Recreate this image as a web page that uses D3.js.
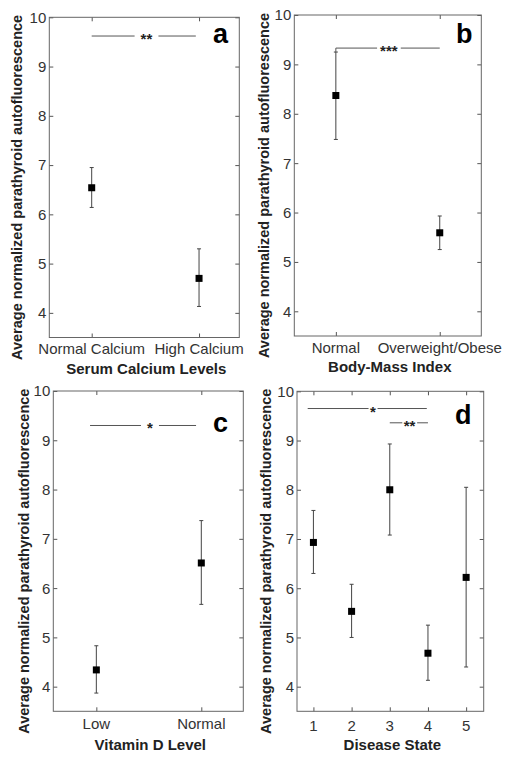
<!DOCTYPE html>
<html>
<head>
<meta charset="utf-8">
<script src="https://cdn.jsdelivr.net/npm/d3@7"></script>
<style>
  body { margin: 0; background: #fff; }
  svg { font-family: 'Liberation Sans', Arial, sans-serif; }
</style>
</head>
<body>
<div id="chart"></div>
<script>
// values
const calciumCats = ['Normal Calcium', 'High Calcium']
const calciumMean = [6.54, 4.70]
const calciumLow = [6.14, 4.13]
const calciumHigh = [6.95, 5.30]

const bmiCats = ['Normal', 'Overweight/Obese']
const bmiMean = [8.37, 5.59]
const bmiLow = [7.48, 5.25]
const bmiHigh = [9.25, 5.93]

const vitdCats = ['Low', 'Normal']
const vitdMean = [4.34, 6.51]
const vitdLow = [3.87, 5.67]
const vitdHigh = [4.83, 7.37]

const diseaseCats = ['1', '2', '3', '4', '5']
const diseaseMean = [6.93, 5.53, 8.00, 4.68, 6.22]
const diseaseLow = [6.30, 5.00, 7.08, 4.13, 4.40]
const diseaseHigh = [7.58, 6.08, 8.93, 5.25, 8.05]

const yTicks = [4, 5, 6, 7, 8, 9, 10]
const yLabel = 'Average normalized parathyroid autofluorescence'

const panels = [
  {
    letter: 'a', title: 'Serum Calcium Levels',
    cats: calciumCats, mean: calciumMean, lo: calciumLow, hi: calciumHigh,
    box: [49.3, 17.3, 239.3, 337.5], xDomain: [0.605, 2.375],
    sig: [{ x1: 1, x2: 1.97, y: 9.62, label: '**', lx: 1.51, pad: 6 }],
    letterPos: [213, 43], tickY: 354, titleY: 374, yLabelX: 17
  },
  {
    letter: 'b', title: 'Body-Mass Index',
    cats: bmiCats, mean: bmiMean, lo: bmiLow, hi: bmiHigh,
    box: [294.3, 15, 481.3, 336], xDomain: [0.6, 2.4],
    sig: [{ x1: 1, x2: 2, y: 9.33, label: '***', lx: 1.51, drop: true, pad: 3 }],
    letterPos: [456, 43], tickY: 353, titleY: 372, yLabelX: 264
  },
  {
    letter: 'c', title: 'Vitamin D Level',
    cats: vitdCats, mean: vitdMean, lo: vitdLow, hi: vitdHigh,
    box: [53.3, 391, 243.3, 711.3], xDomain: [0.59, 2.4],
    sig: [{ x1: 0.94, x2: 1.95, y: 9.3, label: '*', lx: 1.51, pad: 6 }],
    letterPos: [213, 432], tickY: 729, titleY: 750, yLabelX: 24
  },
  {
    letter: 'd', title: 'Disease State',
    cats: diseaseCats, mean: diseaseMean, lo: diseaseLow, hi: diseaseHigh,
    box: [297, 391.3, 483.7, 711.3], xDomain: [0.57, 5.46],
    sig: [
      { x1: 0.85, x2: 3.97, y: 9.65, label: '*', lx: 2.56, pad: 1.5 },
      { x1: 3.0, x2: 4.0, y: 9.36, label: '**', lx: 3.52, pad: 1.5 }
    ],
    letterPos: [455, 424], tickY: 731, titleY: 750, yLabelX: 266
  }
]

const svg = d3.select('#chart')
  .append('svg')
  .attr('width', 512)
  .attr('height', 757)

panels.forEach(function(p) {
  const [x0, y0, x1, y1] = p.box
  const xs = d3.scaleLinear().domain(p.xDomain).range([x0, x1])
  const ys = d3.scaleLinear().domain([3.5, 10]).range([y1, y0])
  const idx = p.cats.map((c, i) => i + 1)

  const g = svg.append('g')

  // axes with inward ticks on every side
  const axes = [
    [d3.axisLeft(ys).tickValues(yTicks), x0, 0],
    [d3.axisRight(ys).tickValues(yTicks), x1, 0],
    [d3.axisBottom(xs).tickValues(idx), 0, y1],
    [d3.axisTop(xs).tickValues(idx), 0, y0]
  ]
  axes.forEach(function([ax, tx, ty]) {
    const a = g.append('g')
      .attr('transform', 'translate(' + tx + ',' + ty + ')')
      .call(ax.tickSizeInner(-4).tickSizeOuter(0).tickFormat(''))
    a.select('.domain').remove()
    a.selectAll('.tick line').attr('stroke', '#555')
  })

  g.append('rect')
    .attr('x', x0).attr('y', y0)
    .attr('width', x1 - x0).attr('height', y1 - y0)
    .attr('fill', 'none')
    .attr('stroke', '#666')
    .attr('stroke-width', 1)

  // y tick labels
  g.selectAll('.ylab')
    .data(yTicks)
    .enter()
    .append('text')
    .attr('x', x0 - 3)
    .attr('y', d => ys(d))
    .attr('dy', '0.36em')
    .attr('text-anchor', 'end')
    .style('font-size', '15px')
    .attr('fill', '#333')
    .text(d => d)

  // x tick labels
  g.selectAll('.xlab')
    .data(p.cats)
    .enter()
    .append('text')
    .attr('x', (d, i) => xs(i + 1))
    .attr('y', p.tickY)
    .attr('text-anchor', 'middle')
    .style('font-size', '15px')
    .attr('fill', '#333')
    .text(d => d)

  // axis titles
  g.append('text')
    .attr('x', (x0 + x1) / 2 + 2)
    .attr('y', p.titleY)
    .attr('text-anchor', 'middle')
    .style('font-size', '15px')
    .style('font-weight', 'bold')
    .attr('fill', '#222')
    .text(p.title)

  g.append('text')
    .attr('transform', 'translate(' + p.yLabelX + ',' + ((y0 + y1) / 2 + 10) + ') rotate(-90)')
    .attr('dy', '0.35em')
    .attr('text-anchor', 'middle')
    .style('font-size', '14.5px')
    .style('font-weight', 'bold')
    .attr('fill', '#222')
    .text(yLabel)

  // panel letter
  g.append('text')
    .attr('x', p.letterPos[0])
    .attr('y', p.letterPos[1])
    .style('font-size', '27px')
    .style('font-weight', 'bold')
    .attr('fill', '#000')
    .text(p.letter)

  // error bars
  const pts = p.mean.map((m, i) => ({ x: i + 1, m: m, lo: p.lo[i], hi: p.hi[i] }))
  const eb = g.selectAll('.eb').data(pts).enter().append('g')
  eb.append('line')
    .attr('x1', d => xs(d.x)).attr('x2', d => xs(d.x))
    .attr('y1', d => ys(d.lo)).attr('y2', d => ys(d.hi))
    .attr('stroke', '#444').attr('stroke-width', 1)
  eb.append('line')
    .attr('x1', d => xs(d.x) - 2).attr('x2', d => xs(d.x) + 2)
    .attr('y1', d => ys(d.lo)).attr('y2', d => ys(d.lo))
    .attr('stroke', '#444')
  eb.append('line')
    .attr('x1', d => xs(d.x) - 2).attr('x2', d => xs(d.x) + 2)
    .attr('y1', d => ys(d.hi)).attr('y2', d => ys(d.hi))
    .attr('stroke', '#444')
  eb.append('rect')
    .attr('x', d => xs(d.x) - 3.5)
    .attr('y', d => ys(d.m) - 3.5)
    .attr('width', 7).attr('height', 7)
    .attr('fill', '#000')

  // significance lines
  p.sig.forEach(function(s) {
    g.append('line')
      .attr('x1', xs(s.x1)).attr('x2', xs(s.x2))
      .attr('y1', ys(s.y)).attr('y2', ys(s.y))
      .attr('stroke', '#555').attr('stroke-width', 1)
    if (s.drop) {
      g.append('line')
        .attr('x1', xs(s.x1)).attr('x2', xs(s.x1))
        .attr('y1', ys(s.y)).attr('y2', ys(p.hi[0]))
        .attr('stroke', '#555')
    }
    const t = g.append('text')
      .attr('x', xs(s.lx))
      .attr('y', ys(s.y) + 8)
      .attr('text-anchor', 'middle')
      .style('font-size', '15px')
      .style('font-weight', 'bold')
      .attr('fill', '#222')
      .text(s.label)
    const bb = t.node().getBBox()
    g.insert('rect', function() { return t.node() })
      .attr('x', bb.x - s.pad).attr('y', ys(s.y) - 2)
      .attr('width', bb.width + 2 * s.pad).attr('height', 4)
      .attr('fill', '#fff')
  })
})
</script>
</body>
</html>
